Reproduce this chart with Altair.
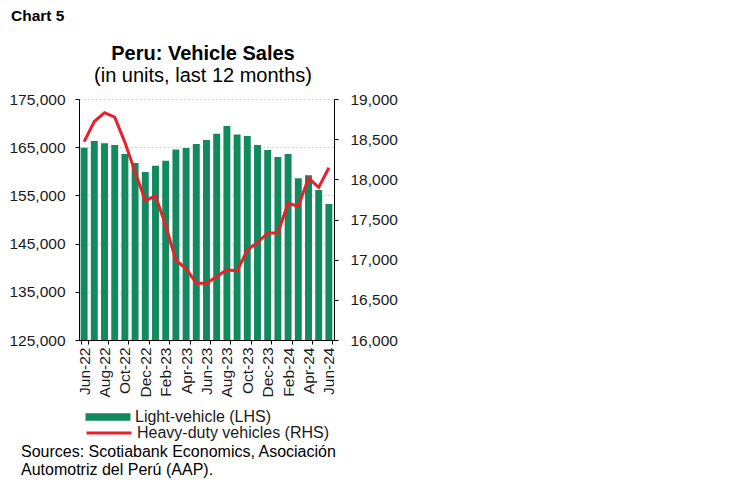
import altair as alt
import pandas as pd

months = ["Jun-22", "Jul-22", "Aug-22", "Sep-22", "Oct-22", "Nov-22", "Dec-22",
          "Jan-23", "Feb-23", "Mar-23", "Apr-23", "May-23", "Jun-23", "Jul-23",
          "Aug-23", "Sep-23", "Oct-23", "Nov-23", "Dec-23", "Jan-24", "Feb-24",
          "Mar-24", "Apr-24", "May-24", "Jun-24"]
light_vehicle = [164900, 166300, 165800, 165450, 163600, 161700, 159850, 161150,
                 162200, 164500, 164850, 165650, 166500, 167800, 169400, 167650,
                 167300, 165450, 164400, 162950, 163600, 158550, 159200, 156100,
                 153200]
heavy_duty = [18470, 18720, 18830, 18775, 18460, 18090, 17735, 17795, 17425,
              16990, 16890, 16705, 16705, 16790, 16875, 16860, 17120, 17215,
              17330, 17335, 17700, 17665, 18015, 17900, 18145]
tick_months = months[::2]
left_ticks = [125000, 135000, 145000, 155000, 165000, 175000]
right_ticks = [16000, 16500, 17000, 17500, 18000, 18500, 19000]
lv_name = "Light-vehicle (LHS)"
hd_name = "Heavy-duty vehicles (RHS)"

df = pd.DataFrame({"month": months, "light": light_vehicle, "heavy": heavy_duty,
                   "lv": lv_name, "hd": hd_name})

FONT = "Liberation Sans"
GREEN = "#128A5E"
RED = "#E8202C"
TXT = "#1a1a1a"

x_enc = alt.X("month:N", sort=months,
              scale=alt.Scale(paddingInner=0.32, paddingOuter=0.16),
              axis=alt.Axis(values=tick_months, labelAngle=270, title=None,
                            tickBand="extent", domainColor="black", tickColor="black",
                            tickSize=4, labelPadding=3, labelFont=FONT, labelFontSize=15.5,
                            labelColor=TXT, grid=False))

bars = alt.Chart(df).mark_bar(color=GREEN, clip=True).encode(
    x=x_enc,
    y=alt.Y("light:Q", scale=alt.Scale(domain=[125000, 175000], nice=False, zero=False),
            axis=alt.Axis(values=left_ticks, format=",.0f", title=None, grid=True,
                          gridColor="#CFCFCF", gridDash=[2, 2], gridWidth=1,
                          domainColor="black", tickColor="black", tickSize=4,
                          labelPadding=10, labelFont=FONT, labelFontSize=15.5,
                          labelColor=TXT)),
    fill=alt.Fill("lv:N", scale=alt.Scale(domain=[lv_name], range=[GREEN]),
                  legend=alt.Legend(orient="none", legendX=21, legendY=310, title=None,
                                    symbolType="M-3,-0.5H3V0.5H-3Z", symbolSize=225,
                                    symbolStrokeWidth=0, labelOffset=19, labelLimit=400,
                                    labelFont=FONT, labelFontSize=16, labelColor=TXT)),
)

line = alt.Chart(df).mark_line(strokeWidth=3).encode(
    x=alt.X("month:N", sort=months),
    y=alt.Y("heavy:Q", scale=alt.Scale(domain=[16000, 19000], nice=False, zero=False),
            axis=alt.Axis(values=right_ticks, format=",.0f", title=None, orient="right",
                          grid=False, domainColor="black", tickColor="black", tickSize=4,
                          labelPadding=12, labelFont=FONT, labelFontSize=15.5,
                          labelColor=TXT)),
    stroke=alt.Stroke("hd:N", scale=alt.Scale(domain=[hd_name], range=[RED]),
                      legend=alt.Legend(orient="none", legendX=21, legendY=325, title=None,
                                        symbolType="M-3,0H3", symbolSize=225,
                                        symbolStrokeWidth=3, labelOffset=19, labelLimit=400,
                                        labelFont=FONT, labelFontSize=16, labelColor=TXT)),
)

def label(text, x, y, size, weight="normal", align="left", font=FONT):
    return alt.Chart(pd.DataFrame({"t": [text]})).mark_text(
        align=align, baseline="alphabetic", font=font, fontSize=size,
        fontWeight=weight, color="black", lineBreak="\n", lineHeight=18
    ).encode(x=alt.value(x), y=alt.value(y), text="t:N")

chart_no = label("Chart 5", -68, -78, 15.5, "bold")
title1 = label("Peru: Vehicle Sales", 124, -39, 20, "bold", align="center")
title2 = label("(in units, last 12 months)", 124, -17.5, 20, align="center")
sources = label("Sources: Scotiabank Economics, Asociación\nAutomotriz del Perú (AAP).",
                -58, 358, 16)

chart = alt.layer(bars, line, chart_no, title1, title2, sources).resolve_scale(
    y="independent"
).properties(
    width=255, height=241,
    padding={"top": 1, "left": 0, "right": 0, "bottom": 0}
).configure_view(stroke=None)

chart.save("out.html", embed_options={"renderer": "svg", "actions": False})
